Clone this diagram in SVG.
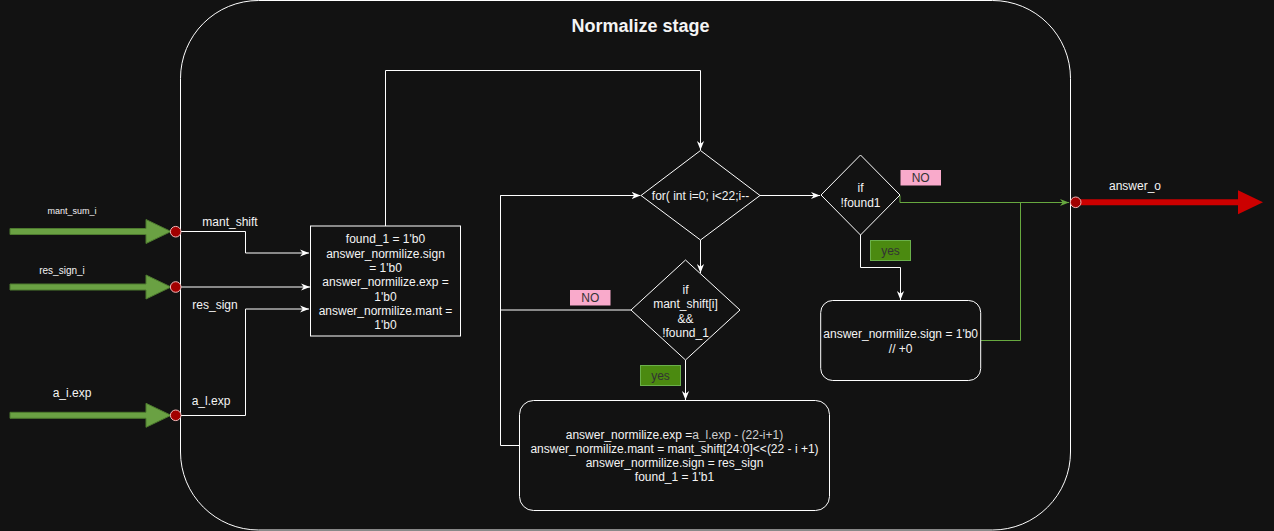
<svg xmlns="http://www.w3.org/2000/svg" width="1274" height="531" viewBox="0 0 1274 531">
<style>
text{font-family:"Liberation Sans",Arial,sans-serif;font-size:12px;fill:#f4f4f4;text-anchor:middle}
.shape{fill:#121212;stroke:#ffffff;stroke-width:1}
.ln{fill:none;stroke:#ffffff;stroke-width:1}
.gln{fill:none;stroke:#67a83f;stroke-width:1}
.dot{fill:#a20000;stroke:#f2b8b8;stroke-width:1}
.inarrow{fill:#6aa143;stroke:#4d7a2e;stroke-width:1}
.lblno{fill:#f9aacb}
.lblyes{fill:#4b8a10;stroke:#6ab04a;stroke-width:1}
.dark{fill:#333333}
</style>
<defs>
<marker id="aw" viewBox="0 0 10 10" refX="10" refY="5" markerWidth="9" markerHeight="9" orient="auto" markerUnits="userSpaceOnUse"><path d="M0,1 L10,5 L0,9 L3,5 z" fill="#ffffff"/></marker>
<marker id="ag" viewBox="0 0 10 10" refX="10" refY="5" markerWidth="9" markerHeight="9" orient="auto" markerUnits="userSpaceOnUse"><path d="M0,1 L10,5 L0,9 L3,5 z" fill="#67a83f"/></marker>
</defs>
<rect width="1274" height="531" fill="#121212"/>

<g id="container">
<rect x="180.5" y="0.5" width="890" height="529.5" rx="78" ry="78" class="shape"/>
<text x="640.5" y="32" style="font-size:18px;font-weight:bold">Normalize stage</text>
</g>

<g id="inputs">
<path class="inarrow" d="M10,228.5 H146 V219.5 L171,231.5 L146,243.5 V234.5 H10 Z"/>
<path class="inarrow" d="M10,284 H146 V275 L171,287 L146,299 V290 H10 Z"/>
<path class="inarrow" d="M10,412.3 H146 V403.3 L171,415.3 L146,427.3 V418.3 H10 Z"/>
<text x="72" y="214" style="font-size:9px">mant_sum_i</text>
<text x="62" y="274" style="font-size:10px">res_sign_i</text>
<text x="72" y="397">a_i.exp</text>
</g>

<g id="connectors">
<path class="ln" d="M180.5,231.5 H245.5 V253 H309" marker-end="url(#aw)"/>
<path class="ln" d="M180.5,287 H310" marker-end="url(#aw)"/>
<path class="ln" d="M180.5,415.5 H245.5 V309 H309" marker-end="url(#aw)"/>
<path class="ln" d="M385.5,226 V70.5 H700.5 V150" marker-end="url(#aw)"/>
<path class="ln" d="M760,195.5 H820" marker-end="url(#aw)"/>
<path class="ln" d="M700.5,240 V273" marker-end="url(#aw)"/>
<path class="ln" d="M631,310 H500.5 V195.5 H640.5" marker-end="url(#aw)"/>
<path class="ln" d="M519.5,445.5 H500.5 V195.5"/>
<path class="ln" d="M685.5,360 V400" marker-end="url(#aw)"/>
<path class="ln" d="M860.5,235 V267.5 H900.5 V300" marker-end="url(#aw)"/>
<path class="gln" d="M900,195.5 V202.5 H1069" marker-end="url(#ag)"/>
<path class="gln" d="M980.7,340.5 H1020.5 V202.5"/>
<text x="230" y="226">mant_shift</text>
<text x="215" y="309">res_sign</text>
<text x="211" y="405">a_l.exp</text>
</g>

<g id="label-no-1">
<rect x="570" y="290" width="40.5" height="15.5" class="lblno"/>
<text x="590.3" y="302" class="dark">NO</text>
</g>
<g id="label-yes-1">
<rect x="640.5" y="365.5" width="40" height="20" class="lblyes"/>
<text x="660.5" y="380" class="dark">yes</text>
</g>
<g id="label-no-2">
<rect x="900.5" y="170" width="40.5" height="15.5" class="lblno"/>
<text x="920.7" y="182" class="dark">NO</text>
</g>
<g id="label-yes-2">
<rect x="870.5" y="240.5" width="40" height="20" class="lblyes"/>
<text x="890.5" y="255" class="dark">yes</text>
</g>

<g id="init-box">
<rect x="310.5" y="226" width="150" height="110" class="shape"/>
<text x="385.5" y="243">found_1 = 1'b0</text>
<text x="385.5" y="258">answer_normilize.sign</text>
<text x="385.5" y="272">= 1'b0</text>
<text x="385.5" y="286">answer_normilize.exp =</text>
<text x="385.5" y="301">1'b0</text>
<text x="385.5" y="315">answer_normilize.mant =</text>
<text x="385.5" y="329">1'b0</text>
</g>

<g id="for-loop">
<path class="shape" d="M700.5,150.5 L760,195.5 L700.5,240 L641,195.5 Z"/>
<text x="700.5" y="200">for( int i=0; i&lt;22;i--</text>
</g>

<g id="if-found">
<path class="shape" d="M685.5,260 L740,310 L685.5,360 L631,310 Z"/>
<text x="685.5" y="294">if</text>
<text x="685.5" y="308">mant_shift[i]</text>
<text x="685.5" y="323">&amp;&amp;</text>
<text x="685.5" y="337">!found_1</text>
</g>

<g id="assign-box">
<rect x="519.5" y="400.5" width="310" height="110" rx="14" ry="14" class="shape"/>
<text x="674.5" y="439">answer_normilize.exp =<tspan fill="#cfcfcf">a_l.exp - (22-i+1)</tspan></text>
<text x="674.5" y="453">answer_normilize.mant = mant_shift[24:0]&lt;&lt;(22 - i +1)</text>
<text x="674.5" y="467">answer_normilize.sign = res_sign</text>
<text x="674.5" y="481">found_1 = 1'b1</text>
</g>

<g id="if-notfound">
<path class="shape" d="M860.5,155 L900,195 L860.5,235 L821,195 Z"/>
<text x="860.5" y="192">if</text>
<text x="860.5" y="207">!found1</text>
</g>

<g id="zero-box">
<rect x="820.7" y="300.5" width="160" height="80" rx="12" ry="12" class="shape"/>
<text x="900.7" y="338">answer_normilize.sign = 1'b0</text>
<text x="900.7" y="353">// +0</text>
</g>

<g id="output">
<path d="M1080,199.3 H1238 V190.3 L1263,202.3 L1238,214.3 V205.3 H1080 Z" fill="#cc0000"/>
<text x="1135" y="190">answer_o</text>
</g>

<g id="ports">
<circle cx="175.7" cy="231.7" r="5.3" class="dot"/>
<circle cx="175.7" cy="287" r="5.3" class="dot"/>
<circle cx="175.7" cy="415.3" r="5.3" class="dot"/>
<circle cx="1075.7" cy="202.3" r="5.3" class="dot"/>
</g>
</svg>
